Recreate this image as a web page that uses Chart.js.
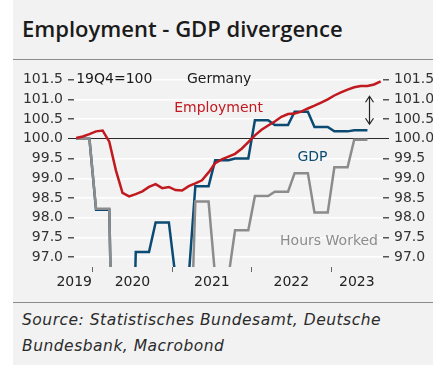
<!DOCTYPE html>
<html lang="en">
<head>
<meta charset="UTF-8">
<title>Employment - GDP divergence</title>
<script src="https://cdn.jsdelivr.net/npm/chart.js@4.4.0/dist/chart.umd.min.js"></script>
<style>
  html, body { margin: 0; padding: 0; background: #fff; }
  body { width: 433px; height: 365px; overflow: hidden; position: relative; }
  .panel { position: absolute; left: 13px; top: 0; width: 420px; height: 365px; background: #f2f2f2; }
  .title { position: absolute; left: 9px; top: 14px; font: 600 22px/28px "Open Sans", sans-serif; color: #1b1b1b; white-space: nowrap; }
  .rule { position: absolute; left: 0; width: 420px; height: 1px; background: #8c8c8c; }
  .chart { position: absolute; left: 0; top: 60px; width: 420px; height: 241px; }
  .source { position: absolute; left: 9px; top: 307px; font: italic 15.5px/26px "DejaVu Sans", sans-serif; letter-spacing: 0.5px; color: #2b2b2b; white-space: nowrap; }
</style>
</head>
<body>
<div class="panel">
  <div class="title">Employment - GDP divergence</div>
  <div class="rule" style="top:59px"></div>
  <div class="chart"><canvas id="divChart"></canvas></div>
  <div class="rule" style="top:302px"></div>
  <div class="source">Source: Statistisches Bundesamt, Deutsche<br>Bundesbank, Macrobond</div>
</div>
<script>
  // monthly employment, Oct 2019 .. Aug 2023 (19Q4 = 100)
  const employment = [
    100.02, 100.06, 100.12, 100.19, 100.21, 99.93, 99.20, 98.63, 98.54, 98.60,
    98.67, 98.78, 98.85, 98.75, 98.78, 98.70, 98.69, 98.80, 98.87, 98.95,
    99.15, 99.38, 99.48, 99.55, 99.62, 99.75, 99.92, 100.09, 100.23, 100.34,
    100.44, 100.56, 100.63, 100.64, 100.69, 100.77, 100.84, 100.92, 101.00, 101.10,
    101.18, 101.25, 101.31, 101.34, 101.34, 101.38, 101.46
  ];
  // quarterly, 2019Q4 .. 2023Q2
  const gdpQ = [
    100.00, 98.20, 90.00, 97.13, 97.88, 96.50, 98.80, 99.46,
    99.50, 100.47, 100.35, 100.69, 100.30, 100.19, 100.22
  ];
  const hoursQ = [
    100.00, 98.23, 89.50, 95.00, 95.30, 93.10, 98.41, 96.50,
    97.68, 98.55, 98.66, 99.13, 98.13, 99.28, 99.98
  ];

  const yTicks = [97.0, 97.5, 98.0, 98.5, 99.0, 99.5, 100.0, 100.5, 101.0, 101.5];
  // x is months since Oct 2019; year boundaries fall between Dec and Jan
  const yearStarts = [2.5, 14.5, 26.5, 38.5];
  const yearLabels = ['2019', '2020', '2021', '2022', '2023'];
  const yearLabelAt = [-0.3, 8.5, 20.5, 32.5, 42.4];

  const RED = '#c0191f';
  const BLUE = '#0b4a72';
  const GREY = '#8c8c8c';
  const FONT = { family: 'DejaVu Sans', size: 14 };

  // each quarterly value held over its three months
  const byMonth = q => q.flatMap((v, k) => [0, 1, 2].map(m => ({ x: 3 * k + m, y: v })));

  const notes = [
    { text: '19Q4=100', x: 0, y: 101.5, align: 'left', color: '#1a1a1a' },
    { text: 'Germany', x: 21.6, y: 101.5, align: 'center', color: '#1a1a1a' },
    { text: 'Employment', x: 21.5, y: 100.78, align: 'center', color: RED },
    { text: 'GDP', x: 35.7, y: 99.54, align: 'center', color: BLUE },
    { text: 'Hours Worked', x: 38.2, y: 97.4, align: 'center', color: GREY }
  ];
  const gapArrow = { x: 44.2, from: 100.37, to: 101.08 };

  const notesPlugin = {
    id: 'notes',
    afterDatasetsDraw(chart) {
      const { ctx, scales: { x, y } } = chart;
      ctx.save();
      ctx.font = `${FONT.size}px ${FONT.family}`;
      ctx.textBaseline = 'middle';
      notes.forEach(n => {
        ctx.fillStyle = n.color;
        ctx.textAlign = n.align;
        ctx.fillText(n.text, x.getPixelForValue(n.x), y.getPixelForValue(n.y));
      });
      // double-headed arrow
      const ax = Math.round(x.getPixelForValue(gapArrow.x)) + 0.5;
      const top = y.getPixelForValue(gapArrow.to);
      const bot = y.getPixelForValue(gapArrow.from);
      ctx.strokeStyle = '#222';
      ctx.lineWidth = 1.2;
      ctx.beginPath();
      ctx.moveTo(ax, top); ctx.lineTo(ax, bot);
      ctx.moveTo(ax - 4, top + 6); ctx.lineTo(ax, top); ctx.lineTo(ax + 4, top + 6);
      ctx.moveTo(ax - 4, bot - 6); ctx.lineTo(ax, bot); ctx.lineTo(ax + 4, bot - 6);
      ctx.stroke();
      ctx.restore();
    }
  };

  const yAxis = (position, width) => ({
    position,
    min: 96.75,
    max: 101.66,
    border: { display: false },
    afterBuildTicks: s => { s.ticks = yTicks.map(v => ({ value: v })); },
    afterFit: s => { s.width = width; },
    ticks: { font: FONT, color: '#333', padding: 5, callback: v => v.toFixed(1) },
    grid: {
      drawOnChartArea: position === 'left',
      tickLength: 6,
      lineWidth: c => (c.tick && c.tick.value === 100 ? 1 : 1.5),
      color: c => (c.tick && c.tick.value === 100 ? '#2a2a2a' : '#ffffff'),
      tickColor: c => (c.tick && c.tick.value === 100 ? '#2a2a2a' : '#555')
    }
  });

  new Chart(document.getElementById('divChart'), {
    type: 'line',
    data: {
      datasets: [
        { label: 'Employment', data: employment.map((v, i) => ({ x: i, y: v })), borderColor: RED },
        { label: 'Hours Worked', data: byMonth(hoursQ), borderColor: GREY },
        { label: 'GDP', data: byMonth(gdpQ), borderColor: BLUE }
      ]
    },
    options: {
      responsive: true,
      maintainAspectRatio: false,
      animation: false,
      layout: { padding: { top: 9 } },
      datasets: { line: { borderWidth: 2.5, pointRadius: 0, tension: 0, fill: false } },
      plugins: { legend: { display: false }, tooltip: { enabled: false } },
      scales: {
        x: {
          type: 'linear',
          min: -0.33,
          max: 46.35,
          border: { display: false },
          afterFit: s => { s.height = 34; },
          afterBuildTicks: s => {
            s.ticks = yearStarts.concat(yearLabelAt).sort((a, b) => a - b).map(v => ({ value: v }));
          },
          ticks: {
            font: FONT,
            color: '#222',
            padding: 2,
            autoSkip: false,
            maxRotation: 0,
            callback: v => {
              const k = yearLabelAt.indexOf(v);
              return k >= 0 ? yearLabels[k] : '';
            }
          },
          grid: {
            drawOnChartArea: false,
            tickLength: 5,
            tickColor: c => (c.tick && yearStarts.includes(c.tick.value) ? '#666' : 'rgba(0,0,0,0)')
          }
        },
        y: yAxis('left', 61),
        y2: yAxis('right', 50)
      }
    },
    plugins: [notesPlugin]
  });
</script>
</body>
</html>
